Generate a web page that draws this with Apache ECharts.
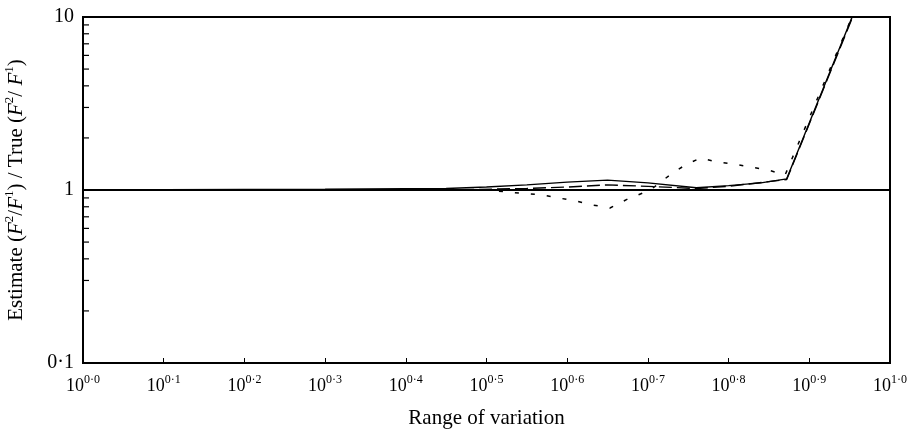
<!DOCTYPE html>
<html>
<head>
<meta charset="utf-8">
<script src="https://cdn.jsdelivr.net/npm/echarts@6/dist/echarts.min.js"></script>
<style>html,body{margin:0;padding:0;background:#fff;}#c{width:911px;height:436px;}</style>
</head>
<body>
<div id="c"></div>
<script>
// x values are exponents of 10 (Range of variation = 10^x)
var xTicks = [0, 0.1, 0.2, 0.3, 0.4, 0.5, 0.6, 0.7, 0.8, 0.9, 1.0];
var yTickLabels = {"0.1": "0·1", "1": "1", "10": "10"};
var yMinorTicks = [0.2, 0.3, 0.4, 0.5, 0.6, 0.7, 0.8, 0.9, 2, 3, 4, 5, 6, 7, 8, 9];

var solidX = [0, 0.3, 0.45, 0.5, 0.55, 0.6, 0.65, 0.7, 0.76, 0.8, 0.84, 0.872, 0.958];
var solidY = [1.0, 1.01, 1.02, 1.04, 1.07, 1.11, 1.14, 1.10, 1.03, 1.06, 1.10, 1.16, 11.4];

var dashX = [0, 0.45, 0.55, 0.6, 0.65, 0.7, 0.76, 0.8, 0.872, 0.958];
var dashY = [1.0, 1.0, 1.02, 1.04, 1.07, 1.05, 1.02, 1.05, 1.15, 11.2];

var dotX = [0, 0.5, 0.53, 0.57, 0.589, 0.611, 0.631, 0.653, 0.675, 0.703, 0.73, 0.747, 0.765, 0.786, 0.807, 0.826, 0.848, 0.87, 0.96];
var dotY = [1.0, 1.0, 0.97, 0.936, 0.90, 0.864, 0.82, 0.787, 0.887, 1.0, 1.25, 1.40, 1.53, 1.45, 1.41, 1.36, 1.31, 1.22, 12.0];

function zip(a, b) { return a.map(function (v, i) { return [v, b[i]]; }); }

var serif = 'Liberation Serif';
var chart = echarts.init(document.getElementById('c'));
chart.setOption({
  animation: false,
  backgroundColor: '#fff',
  grid: { left: 83, right: 21, top: 17, bottom: 73, show: true, borderColor: '#000', borderWidth: 2, containLabel: false, outerBoundsMode: 'none' },
  xAxis: {
    type: 'value', min: 0, max: 1, interval: 0.1,
    name: 'Range of variation', nameLocation: 'middle', nameGap: 45,
    nameTextStyle: { fontFamily: serif, fontSize: 21, color: '#000' },
    axisLine: { lineStyle: { color: '#000', width: 2 } },
    axisTick: { inside: true, length: 5, lineStyle: { color: '#000', width: 1 } },
    splitLine: { show: false },
    axisLabel: {
      margin: 12,
      formatter: function (v) {
        return '{b|10}{s|' + v.toFixed(1).replace('.', '·') + '}';
      },
      rich: {
        b: { fontFamily: serif, fontSize: 18, color: '#000', verticalAlign: 'bottom', lineHeight: 20 },
        s: { fontFamily: serif, fontSize: 12, color: '#000', verticalAlign: 'bottom', padding: [0, 0, 9, 0], lineHeight: 20 }
      }
    }
  },
  yAxis: {
    type: 'log', logBase: 10, min: 0.1, max: 10,
    name: '{n|Estimate (}{i|F}{s|2}{n|/}{i|F}{s|1}{n|) / True (}{i|F}{s|2}{n|/ }{i|F}{s|1}{n|)}',
    nameLocation: 'middle', nameGap: 56, nameRotate: 90,
    nameTextStyle: {
      rich: {
        n: { fontFamily: serif, fontSize: 21, color: '#000', verticalAlign: 'bottom', lineHeight: 24 },
        i: { fontFamily: serif, fontSize: 21, fontStyle: 'italic', color: '#000', verticalAlign: 'bottom', lineHeight: 24 },
        s: { fontFamily: serif, fontSize: 13, color: '#000', verticalAlign: 'bottom', padding: [0, 0, 11, 0], lineHeight: 24 }
      }
    },
    axisLine: { lineStyle: { color: '#000', width: 2 } },
    axisTick: { show: false },
    splitLine: { show: false },
    axisLabel: {
      fontFamily: serif, fontSize: 20, color: '#000', margin: 9,
      formatter: function (v) {
        var k = String(Math.round(v * 10) / 10);
        return yTickLabels[k] !== undefined ? yTickLabels[k] : '';
      }
    }
  },
  series: [
    {
      type: 'custom', silent: true, clip: false,
      data: yMinorTicks.map(function (v) { return [0, v]; }),
      renderItem: function (params, api) {
        var p = api.coord([api.value(0), api.value(1)]);
        return { type: 'line', shape: { x1: p[0], y1: p[1], x2: p[0] + 6, y2: p[1] }, style: { stroke: '#000', lineWidth: 1.2 } };
      },
      z: 5
    },
    {
      type: 'line', data: zip(solidX, solidY), symbol: 'none', smooth: false,
      lineStyle: { color: '#000', width: 1.4 },
      markLine: {
        silent: true, symbol: 'none', label: { show: false },
        lineStyle: { color: '#000', width: 2.2, type: 'solid' },
        data: [{ yAxis: 1 }]
      }
    },
    {
      type: 'line', data: zip(dashX, dashY), symbol: 'none',
      lineStyle: { color: '#000', width: 1.4, type: [13, 5] }
    },
    {
      type: 'line', data: zip(dotX, dotY), symbol: 'none',
      lineStyle: { color: '#000', width: 1.5, type: [4, 12] }
    }
  ]
});
</script>
</body>
</html>
